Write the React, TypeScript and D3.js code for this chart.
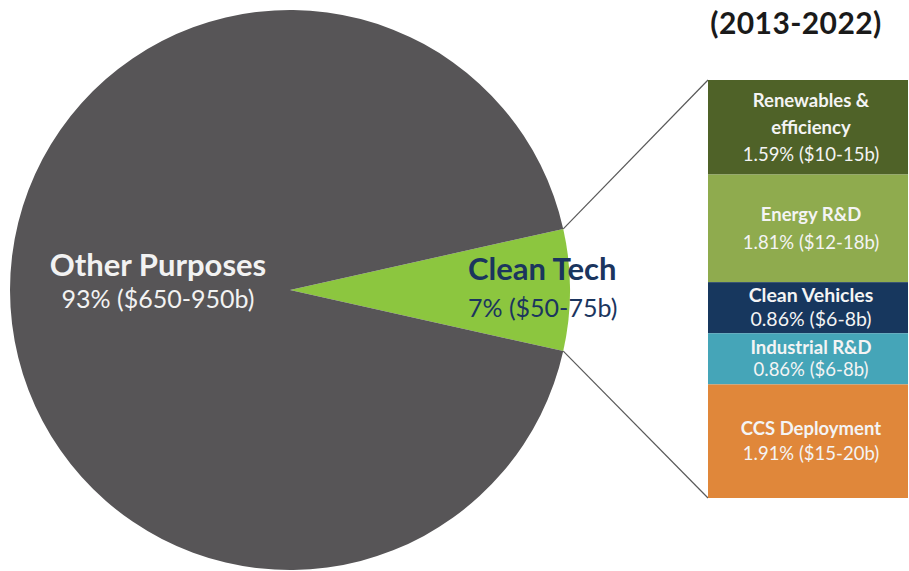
import React from "react";
import * as d3 from "d3";

const pieLabels = ["Clean Tech", "Other Purposes"];
const pieValues = [7, 93];
const pieValueText = ["7% ($50-75b)", "93% ($650-950b)"];

const barNames = [["Renewables &", "efficiency"], ["Energy R&D"], ["Clean Vehicles"], ["Industrial R&D"], ["CCS Deployment"]];
const barValues = [1.59, 1.81, 0.86, 0.86, 1.91];
const barValueText = ["1.59% ($10-15b)", "1.81% ($12-18b)", "0.86% ($6-8b)", "0.86% ($6-8b)", "1.91% ($15-20b)"];
const barColors = ["#4f6228", "#8fab4e", "#17375e", "#45a5b8", "#e0873a"];
const title = "(2013-2022)";

export default function App() {
  const W = 909, H = 571;
  const cx = 290, cy = 290, r = 280;
  const half = (pieValues[0] / 100) * Math.PI;
  const pie = d3.pie<number>().sort(null).startAngle(Math.PI / 2 - half).endAngle(Math.PI / 2 - half + 2 * Math.PI);
  const arcs = pie(pieValues);
  const arc = d3.arc<d3.PieArcDatum<number>>().innerRadius(0).outerRadius(r);
  const pieColors = ["#8cc63f", "#575557"];

  const bx0 = 708, bx1 = 908;
  const total = d3.sum(barValues);
  const y = d3.scaleLinear().domain([0, total]).range([80, 498]);
  const cum = [0];
  barValues.forEach((v, i) => cum.push(cum[i] + v));
  const lineH = [27, 28.5, 24, 22, 25];
  const fs = [18.5, 18.5, 19.5, 18.5, 18.5];

  const pt = (a: number) => [cx + r * Math.sin(a), cy - r * Math.cos(a)];
  const [p1x, p1y] = pt(arcs[0].startAngle);
  const [p2x, p2y] = pt(arcs[0].endAngle);

  const font = "Lato, 'Open Sans', sans-serif";

  return (
    <svg width={W} height={H} style={{ position: "absolute", left: 0, top: 0, background: "#fff" }} fontFamily={font}>
      <g transform={`translate(${cx},${cy})`}>
        {arcs.map((a, i) => (
          <path key={i} d={arc(a) || ""} fill={pieColors[i]} />
        ))}
      </g>
      <line x1={p1x} y1={p1y} x2={bx0} y2={y(0)} stroke="#595959" strokeWidth={1.2} />
      <line x1={p2x} y1={p2y} x2={bx0} y2={y(total)} stroke="#595959" strokeWidth={1.2} />
      {barValues.map((v, i) => {
        const y0 = y(cum[i]), y1 = y(cum[i + 1]);
        const names = barNames[i];
        const lines = names.length + 1;
        const lh = lineH[i];
        const mid = (y0 + y1) / 2;
        const startY = mid - ((lines - 1) * lh) / 2 + 6.5;
        const tx = (bx0 + bx1) / 2 + 3;
        return (
          <g key={i}>
            <rect x={bx0} y={y0} width={bx1 - bx0} height={y1 - y0} fill={barColors[i]} />
            {names.map((n, j) => (
              <text key={j} x={tx} y={startY + j * lh} textAnchor="middle" fill="#f4f4f4" fontWeight="bold" fontSize={fs[i]}>{n}</text>
            ))}
            <text x={tx} y={startY + names.length * lh} textAnchor="middle" fill="#f4f4f4" fontSize={fs[i]}>{barValueText[i]}</text>
          </g>
        );
      })}
      <text x={796} y={34} textAnchor="middle" fontWeight="bold" fontSize={30} letterSpacing={0.4} fill="#1a1a1a">{title}</text>
      <text x={158} y={276} textAnchor="middle" fontWeight="bold" fontSize={31} fill="#f2f2f2">{pieLabels[1]}</text>
      <text x={158} y={308} textAnchor="middle" fontSize={25} fill="#f2f2f2">{pieValueText[1]}</text>
      <text x={468} y={280} textAnchor="start" fontWeight="bold" fontSize={31} fill="#1b355e">{pieLabels[0]}</text>
      <text x={468} y={317} textAnchor="start" fontSize={25} fill="#1b355e">{pieValueText[0]}</text>
    </svg>
  );
}
